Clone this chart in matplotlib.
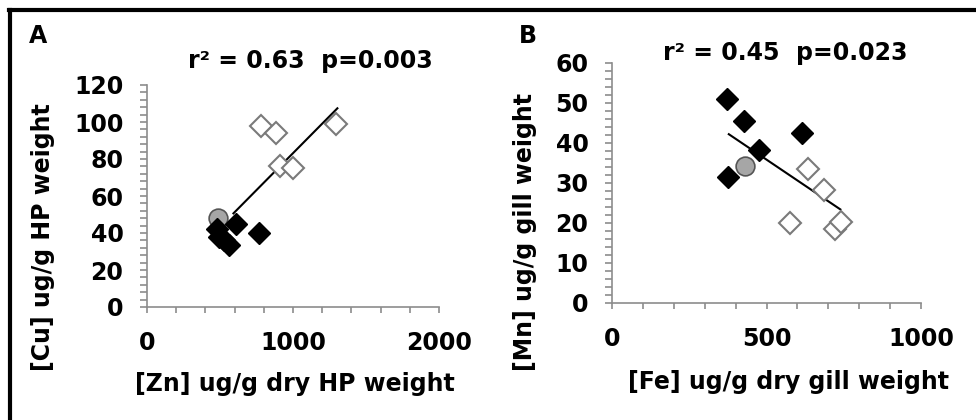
import matplotlib
matplotlib.use('Agg')
import matplotlib.pyplot as plt
from matplotlib.ticker import MultipleLocator
from matplotlib.lines import Line2D

plt.rcParams['font.family'] = ['DejaVu Sans']
plt.rcParams['font.weight'] = 'bold'

# Panel A: Zn vs Cu in hepatopancreas
zn_filled = [480, 495, 530, 565, 610, 770]
cu_filled = [42, 38, 36, 33.5, 45, 40]
zn_open = [780, 885, 910, 1000, 1295]
cu_open = [98, 94, 76, 75, 99]
zn_ref = [489]
cu_ref = [48]
zn_fit = [592, 1304]
cu_fit = [50.6, 107.4]

# Panel B: Fe vs Mn in gill
fe_filled = [373, 427, 476, 375, 615]
mn_filled = [51, 45.6, 38.3, 31.6, 42.4]
fe_open = [634, 685, 575, 721, 740]
mn_open = [33.5, 28.3, 20.1, 18.5, 20.3]
fe_ref = [431]
mn_ref = [34.3]
fe_fit = [378, 739]
mn_fit = [42.2, 23.4]

FS = 17
AXIS_GREY = '#8c8c8c'

fig = plt.figure(figsize=(9.76, 4.2), dpi=100)


def style_axis(ax, xmax, xmajor, xminor, ymax, ymajor, yminor):
    ax.set_xlim(0, xmax)
    ax.set_ylim(0, ymax)
    for side in ('top', 'right'):
        ax.spines[side].set_visible(False)
    for side in ('left', 'bottom'):
        ax.spines[side].set_color(AXIS_GREY)
        ax.spines[side].set_linewidth(1.2)
    ax.xaxis.set_major_locator(MultipleLocator(xmajor))
    ax.xaxis.set_minor_locator(MultipleLocator(xminor))
    ax.yaxis.set_major_locator(MultipleLocator(ymajor))
    ax.yaxis.set_minor_locator(MultipleLocator(yminor))
    ax.tick_params(axis='both', which='both', direction='out', color=AXIS_GREY,
                   width=1.2, labelsize=FS)
    ax.tick_params(axis='y', which='both', length=5, pad=12)
    ax.tick_params(axis='x', which='both', length=4, pad=13)
    for lab in ax.get_xticklabels() + ax.get_yticklabels():
        lab.set_fontweight('bold')
    ax.set_facecolor('none')


def draw_panel(ax, xf, yf, xo, yo, xr, yr, xfit, yfit):
    ax.plot(xfit, yfit, color='black', lw=1.5, zorder=2)
    ax.plot(xo, yo, ls='none', marker='D', ms=11, mfc='white', mec='#7a7a7a',
            mew=1.5, zorder=3)
    ax.plot(xr, yr, ls='none', marker='o', ms=13.5, mfc='#a6a6a6', mec='#555555',
            mew=1.2, zorder=3)
    ax.plot(xf, yf, ls='none', marker='D', ms=11, mfc='black', mec='black',
            zorder=4)


# Panel A
axA = fig.add_axes([147 / 976, 113 / 420, 292 / 976, 222 / 420])
draw_panel(axA, zn_filled, cu_filled, zn_open, cu_open, zn_ref, cu_ref, zn_fit, cu_fit)
style_axis(axA, 2000, 1000, 200, 120, 20, 4)

# Panel B
axB = fig.add_axes([612 / 976, 117 / 420, 309 / 976, 240 / 420])
draw_panel(axB, fe_filled, mn_filled, fe_open, mn_open, fe_ref, mn_ref, fe_fit, mn_fit)
style_axis(axB, 1000, 500, 100, 60, 10, 2)

# Texts in figure pixel coordinates
def ftext(x, y, s, **kw):
    fig.text(x / 976, 1 - y / 420, s, fontsize=FS, fontweight='bold', **kw)

ftext(38, 36, 'A', ha='center', va='center')
ftext(528, 36, 'B', ha='center', va='center')
ftext(310, 61, 'r² = 0.63  p=0.003', ha='center', va='center')
ftext(785, 53, 'r² = 0.45  p=0.023', ha='center', va='center')
ftext(295, 384, '[Zn] ug/g dry HP weight', ha='center', va='center')
ftext(789, 382, '[Fe] ug/g dry gill weight', ha='center', va='center')
ftext(43, 237, '[Cu] ug/g HP weight', ha='center', va='center', rotation=90)
ftext(525, 232, '[Mn] ug/g gill weight', ha='center', va='center', rotation=90)

# Frame border (top and left edges visible; rest cropped)
fig.add_artist(Line2D([10 / 976, 10 / 976], [0, 1 - 10 / 420], color='black',
                      lw=3, transform=fig.transFigure))
fig.add_artist(Line2D([8.5 / 976, 1], [1 - 10 / 420, 1 - 10 / 420], color='black',
                      lw=3, transform=fig.transFigure))

fig.savefig('out.png', dpi=100)
